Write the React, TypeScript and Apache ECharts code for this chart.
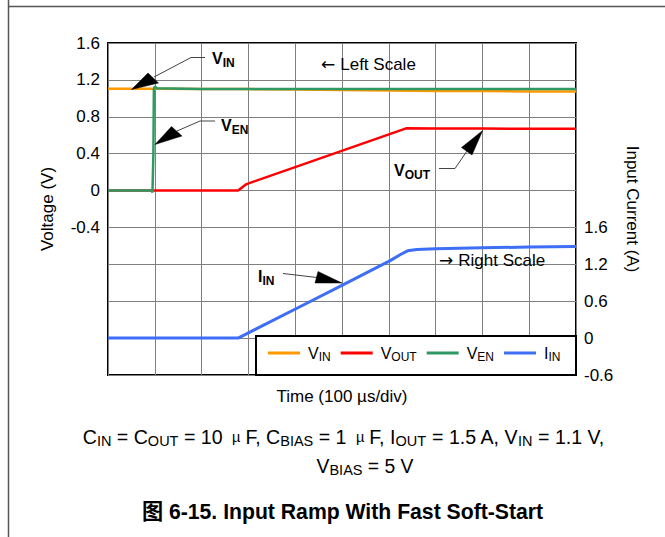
import React, { useEffect, useRef } from "react";
import * as echarts from "echarts";

const FONT = "'Liberation Sans', Arial, 'Noto Sans CJK SC', sans-serif";

// time in µs (10 divisions of 100 µs), value in V / A
const VIN_DATA: [number, number][] = [
  [0, 1.105], [100, 1.105], [200, 1.1], [300, 1.1], [400, 1.095], [500, 1.09],
  [600, 1.085], [700, 1.08], [800, 1.08], [900, 1.075], [1000, 1.075],
];
const VOUT_DATA: [number, number][] = [
  [0, 0], [278, 0], [296, 0.07], [637, 0.675], [700, 0.672], [800, 0.672], [1000, 0.67],
];
const VEN_DATA: [number, number][] = [
  [0, 0], [93, 0], [95, -0.02], [97, 0.4], [98, 1.1], [100, 1.13], [104, 1.11],
  [200, 1.1], [400, 1.1], [600, 1.1], [800, 1.1], [1000, 1.1],
];
const IIN_DATA: [number, number][] = [
  [0, 0], [278, 0], [410, 0.51], [503, 0.87], [603, 1.26], [625, 1.36], [640, 1.42],
  [660, 1.44], [700, 1.455], [800, 1.47], [900, 1.48], [1000, 1.49],
];

const SERIES_NAMES = ["VIN", "VOUT", "VEN", "IIN"];
const SERIES_LABEL_MAIN = ["V", "V", "V", "I"];
const SERIES_LABEL_SUB = ["IN", "OUT", "EN", "IN"];
const SERIES_COLORS = ["#FF9900", "#FF0000", "#2E9963", "#3D6EF5"];

const LEFT_TICKS = [-0.4, 0, 0.4, 0.8, 1.2, 1.6];
const LEFT_TICK_LABELS = ["-0.4", "0", "0.4", "0.8", "1.2", "1.6"];
const RIGHT_TICKS = [-0.6, 0, 0.6, 1.2, 1.8];
const RIGHT_TICK_LABELS = ["-0.6", "0", "0.6", "1.2", "1.6"];

function pickLabel(ticks: number[], labels: string[], v: number) {
  const k = ticks.findIndex((t) => Math.abs(t - v) < 1e-6);
  return k >= 0 ? labels[k] : "";
}

const subRich = (size: number, subSize: number, weight: string) => ({
  m: { fontSize: size, fontWeight: weight, lineHeight: 22, verticalAlign: "middle", fontFamily: FONT, color: "#000" },
  s: { fontSize: subSize, fontWeight: weight, lineHeight: subSize, verticalAlign: "bottom", fontFamily: FONT, color: "#000" },
  mu: { fontSize: subSize, fontWeight: weight, lineHeight: 22, verticalAlign: "middle", fontFamily: FONT, color: "#000", padding: [0, 5, 0, 4] },
  a: { fontSize: 17, lineHeight: 22, verticalAlign: "middle", fontFamily: "'DejaVu Sans', sans-serif", color: "#000", padding: [0, 5, 0, 0] },
  t: { fontSize: size, fontWeight: weight, lineHeight: 22, verticalAlign: "middle", fontFamily: FONT, color: "#000" },
});

function richText(x: number, y: number, text: string, align: string, size: number, subSize: number, weight: string) {
  return {
    type: "text",
    x,
    y,
    z: 20,
    style: {
      text,
      textAlign: align,
      textVerticalAlign: "middle",
      fontSize: size,
      fontFamily: FONT,
      fill: "#000",
      rich: subRich(size, subSize, weight),
    },
  };
}

function plainText(x: number, y: number, text: string, align: string, size: number, weight: string) {
  return {
    type: "text",
    x,
    y,
    z: 20,
    style: {
      text,
      textAlign: align,
      textVerticalAlign: "middle",
      fontSize: size,
      fontWeight: weight,
      fontFamily: FONT,
      fill: "#000",
    },
  };
}

function leader(points: number[][]) {
  return { type: "polyline", z: 20, shape: { points }, style: { stroke: "#444", lineWidth: 1, fill: null } };
}
function head(points: number[][]) {
  return { type: "polygon", z: 20, shape: { points }, style: { fill: "#000", stroke: "#000", lineWidth: 0.5 } };
}

export default function App() {
  const ref = useRef<HTMLDivElement>(null);
  useEffect(() => {
    if (!ref.current) return;
    const chart = echarts.init(ref.current, undefined, { renderer: "svg" });
    const gridLine = { show: true, lineStyle: { color: "#808080", width: 1 } };
    const datasets = [VIN_DATA, VOUT_DATA, VEN_DATA, IIN_DATA];
    const option: any = {
      animation: false,
      backgroundColor: "#fff",
      textStyle: { fontFamily: FONT },
      grid: { left: 108, top: 43, width: 468, height: 332, show: true, borderColor: "#000", borderWidth: 2, backgroundColor: "transparent" },
      xAxis: {
        type: "value", min: 0, max: 1000, interval: 100,
        axisLine: { show: false }, axisTick: { show: false }, axisLabel: { show: false },
        splitLine: gridLine,
        name: "Time (100 µs/div)", nameLocation: "middle", nameGap: 13,
        nameTextStyle: { fontSize: 17, color: "#000", fontFamily: FONT },
      },
      yAxis: [
        {
          type: "value", min: -2, max: 1.6, interval: 0.4,
          axisLine: { show: false }, axisTick: { show: false },
          axisLabel: { fontSize: 17, color: "#000", margin: 8, fontFamily: FONT, formatter: (v: number) => pickLabel(LEFT_TICKS, LEFT_TICK_LABELS, v) },
          splitLine: gridLine,
          name: "Voltage (V)", nameLocation: "middle", nameRotate: 90, nameGap: 52,
          nameTextStyle: { fontSize: 17, color: "#000", fontFamily: FONT },
        },
        {
          type: "value", position: "right", min: -0.6, max: 4.8, interval: 0.6,
          axisLine: { show: false }, axisTick: { show: false },
          axisLabel: { fontSize: 17, color: "#000", margin: 8, fontFamily: FONT, formatter: (v: number) => pickLabel(RIGHT_TICKS, RIGHT_TICK_LABELS, v) },
          splitLine: { show: false },
          name: "Input Current (A)", nameLocation: "middle", nameRotate: -90, nameGap: 45,
          nameTextStyle: { fontSize: 17, color: "#000", fontFamily: FONT },
        },
      ],
      legend: {
        data: SERIES_NAMES, left: 268, top: 345, itemWidth: 32, itemHeight: 3, itemGap: 10,
        icon: "rect", padding: 0, selectedMode: false, z: 30,
        formatter: (name: string) => {
          const i = SERIES_NAMES.indexOf(name);
          return `{m|${SERIES_LABEL_MAIN[i]}}{s|${SERIES_LABEL_SUB[i]}}`;
        },
        textStyle: {
          color: "#000", fontSize: 16, fontFamily: FONT,
          rich: {
            m: { fontSize: 16, lineHeight: 20, verticalAlign: "middle", padding: [0, 0, 0, 3], color: "#000", fontFamily: FONT },
            s: { fontSize: 12, lineHeight: 12, verticalAlign: "bottom", color: "#000", fontFamily: FONT },
          },
        },
      },
      series: SERIES_NAMES.map((name, i) => ({
        name, type: "line", data: datasets[i], yAxisIndex: i === 3 ? 1 : 0,
        showSymbol: false, symbol: "none",
        lineStyle: { color: SERIES_COLORS[i], width: i === 3 ? 3 : 2.5 },
        itemStyle: { color: SERIES_COLORS[i] },
        z: 2 + i,
      })),
      graphic: {
        elements: [
          { type: "line", z: 20, shape: { x1: 8.5, y1: 0, x2: 8.5, y2: 537 }, style: { stroke: "#555", lineWidth: 1.5 } },
          { type: "line", z: 20, shape: { x1: 8, y1: 6.5, x2: 665, y2: 6.5 }, style: { stroke: "#555", lineWidth: 1.5 } },
          { type: "rect", z: 25, shape: { x: 256, y: 336, width: 320, height: 39 }, style: { fill: "#fff", stroke: "#000", lineWidth: 2 } },
          // V_IN annotation
          leader([[205, 57.5], [191, 57.5], [154, 77]]),
          head([[131.5, 89.5], [148, 73], [158.5, 83]]),
          richText(212, 58, "{m|V}{s|IN}", "left", 16, 12, "bold"),
          // V_EN annotation
          leader([[215, 121], [200, 121], [177, 131]]),
          head([[155, 144.5], [171.5, 126.5], [182, 136]]),
          richText(221, 125, "{m|V}{s|EN}", "left", 16, 12, "bold"),
          // V_OUT annotation
          leader([[439, 168.5], [455, 168.5], [467, 151]]),
          head([[482.7, 130.5], [461.5, 147.5], [472, 155]]),
          richText(394, 170, "{m|V}{s|OUT}", "left", 16, 12, "bold"),
          // I_IN annotation
          leader([[283, 273.5], [317, 277.5]]),
          head([[318, 271.5], [342, 283], [315, 283]]),
          richText(258, 276, "{m|I}{s|IN}", "left", 16, 12, "bold"),
          richText(321, 64, "{a|←}{t|Left Scale}", "left", 17, 12, "normal"),
          richText(439, 260, "{a|→}{t|Right Scale}", "left", 17, 12, "normal"),
          // caption
          richText(343.5, 437, "{m|C}{s|IN}{m| = C}{s|OUT}{m| = 10 }{mu|µ}{m|F, C}{s|BIAS}{m| = 1 }{mu|µ}{m|F, I}{s|OUT}{m| = 1.5 A, V}{s|IN}{m| = 1.1 V,}", "center", 19.6, 14.5, "normal"),
          richText(365, 466, "{m|V}{s|BIAS}{m| = 5 V}", "center", 19.3, 14.5, "normal"),
          plainText(342.5, 511, "图 6-15. Input Ramp With Fast Soft-Start", "center", 21.2, "bold"),
        ],
      },
    };
    chart.setOption(option);
    return () => chart.dispose();
  }, []);
  return (
    <div
      ref={ref}
      style={{ position: "absolute", left: 0, top: 0, width: 665, height: 537, background: "#fff" }}
    />
  );
}
